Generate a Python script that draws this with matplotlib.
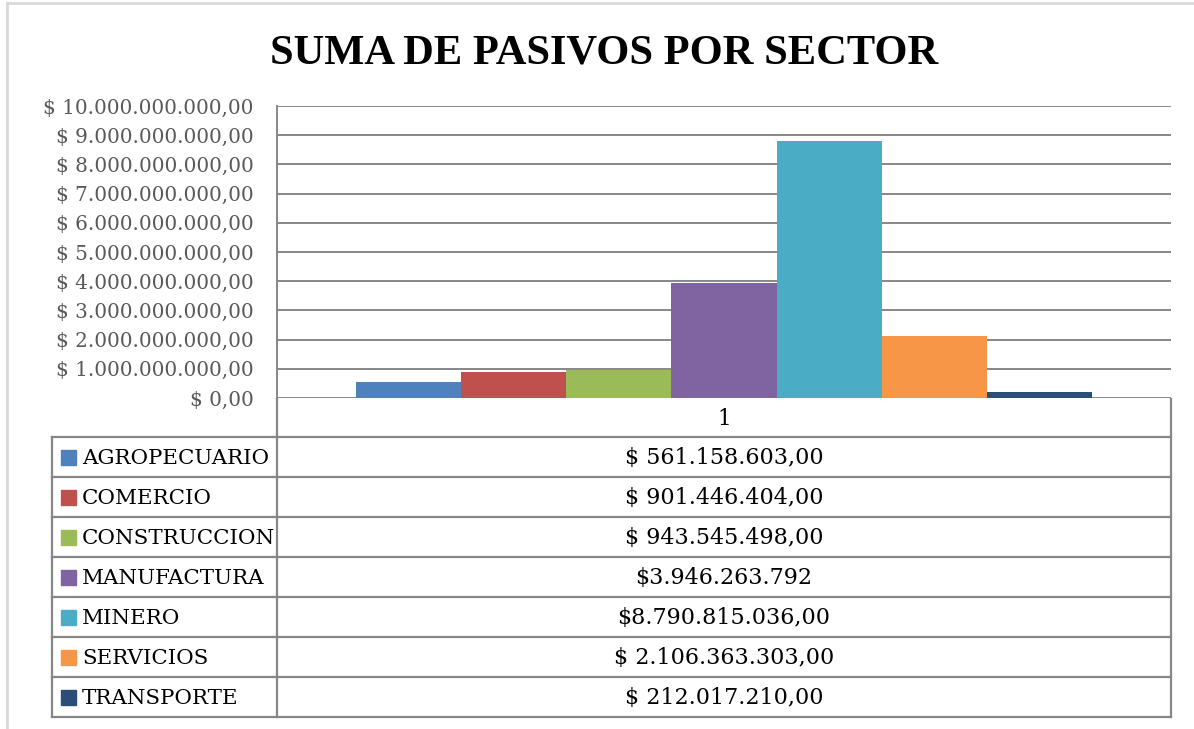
import matplotlib
matplotlib.use("Agg")
import matplotlib.pyplot as plt
from matplotlib.lines import Line2D
from matplotlib.patches import Rectangle
from matplotlib.ticker import FuncFormatter

# datos
sectores = ['AGROPECUARIO', 'COMERCIO', 'CONSTRUCCION', 'MANUFACTURA',
            'MINERO', 'SERVICIOS', 'TRANSPORTE']
pasivos = [561158603, 901446404, 943545498, 3946263792,
           8790815036, 2106363303, 212017210]
textos_tabla = ['$ 561.158.603,00', '$ 901.446.404,00', '$ 943.545.498,00',
                '$3.946.263.792', '$8.790.815.036,00', '$ 2.106.363.303,00',
                '$ 212.017.210,00']
colores = ['#4F81BD', '#C0504D', '#9BBB59', '#8064A2',
           '#4BACC6', '#F79646', '#2C4D75']
categoria = '1'

W, H = 1194, 729
fig = plt.figure(figsize=(W / 100, H / 100), dpi=100)
fig.patch.set_facecolor('white')

serif = ['DejaVu Serif']
gris = '#878787'


def frac(x0, y0, x1, y1):
    # pixeles (origen arriba a la izquierda) -> fracción de figura
    return [x0 / W, 1 - y1 / H, (x1 - x0) / W, (y1 - y0) / H]


# borde claro del gráfico
fig.add_artist(Line2D([7 / W, 7 / W], [0, 1 - 3 / H], color='#d9d9d9', lw=2))
fig.add_artist(Line2D([7 / W, 1], [1 - 3 / H, 1 - 3 / H], color='#d9d9d9', lw=2))

# título
fig.text(604 / W, 1 - 53 / H, 'SUMA DE PASIVOS POR SECTOR', ha='center', va='center',
         fontsize=30.6, fontweight='bold', family='Liberation Serif', color='black')

# barras
ax = fig.add_axes(frac(277, 106, 1171, 398))
n = len(pasivos)
ancho = 1 / (n + 1.5)
for i, (v, c) in enumerate(zip(pasivos, colores)):
    ax.bar((i - (n - 1) / 2) * ancho, v, width=ancho, color=c, zorder=3)
ax.set_xlim(-0.5, 0.5)
ax.set_ylim(0, 10e9)
ax.set_yticks([k * 1e9 for k in range(11)])


def fmt(v, pos):
    s = f'{v:,.2f}'.replace(',', 'X').replace('.', ',').replace('X', '.')
    return '$ ' + s


ax.yaxis.set_major_formatter(FuncFormatter(fmt))
ax.tick_params(axis='y', length=0, pad=17, labelsize=14.4, labelcolor='#595959')
for lab in ax.get_yticklabels():
    lab.set_family(serif)
ax.set_xticks([])
ax.grid(axis='y', color=gris, lw=1.4, zorder=0)
for s in ['top', 'right', 'bottom']:
    ax.spines[s].set_visible(False)
ax.spines['left'].set_color(gris)
ax.spines['left'].set_linewidth(1.4)

# tabla de datos
tab = fig.add_axes(frac(40, 398, 1180, 720))
tab.set_xlim(40, 1180)
tab.set_ylim(720, 398)
tab.axis('off')
lw = 1.6
x_izq, x_mid, x_der = 52, 277, 1171
y_top, y_hdr, alto = 398, 437, 40
y_fin = y_hdr + alto * n
tab.plot([x_mid, x_mid], [y_top, y_fin], color=gris, lw=lw)
tab.plot([x_der, x_der], [y_top, y_fin], color=gris, lw=lw)
tab.plot([x_izq, x_izq], [y_hdr, y_fin], color=gris, lw=lw)
tab.text((x_mid + x_der) / 2, (y_top + y_hdr) / 2 + 1, categoria, ha='center', va='center',
         fontsize=15.5, family=serif, color='black')
for i in range(n + 1):
    y = y_hdr + alto * i
    tab.plot([x_izq, x_der], [y, y], color=gris, lw=lw)
for i, (nom, txt, c) in enumerate(zip(sectores, textos_tabla, colores)):
    yc = y_hdr + alto * i + alto / 2
    tab.add_patch(Rectangle((61, yc - 7.5), 15, 15, color=c))
    tab.text(82, yc + 1, nom, ha='left', va='center', fontsize=15.4,
             family=serif, color='black')
    tab.text((x_mid + x_der) / 2, yc + 1, txt, ha='center', va='center',
             fontsize=16, family=serif, color='black')

plt.savefig('out.png', dpi=100)
